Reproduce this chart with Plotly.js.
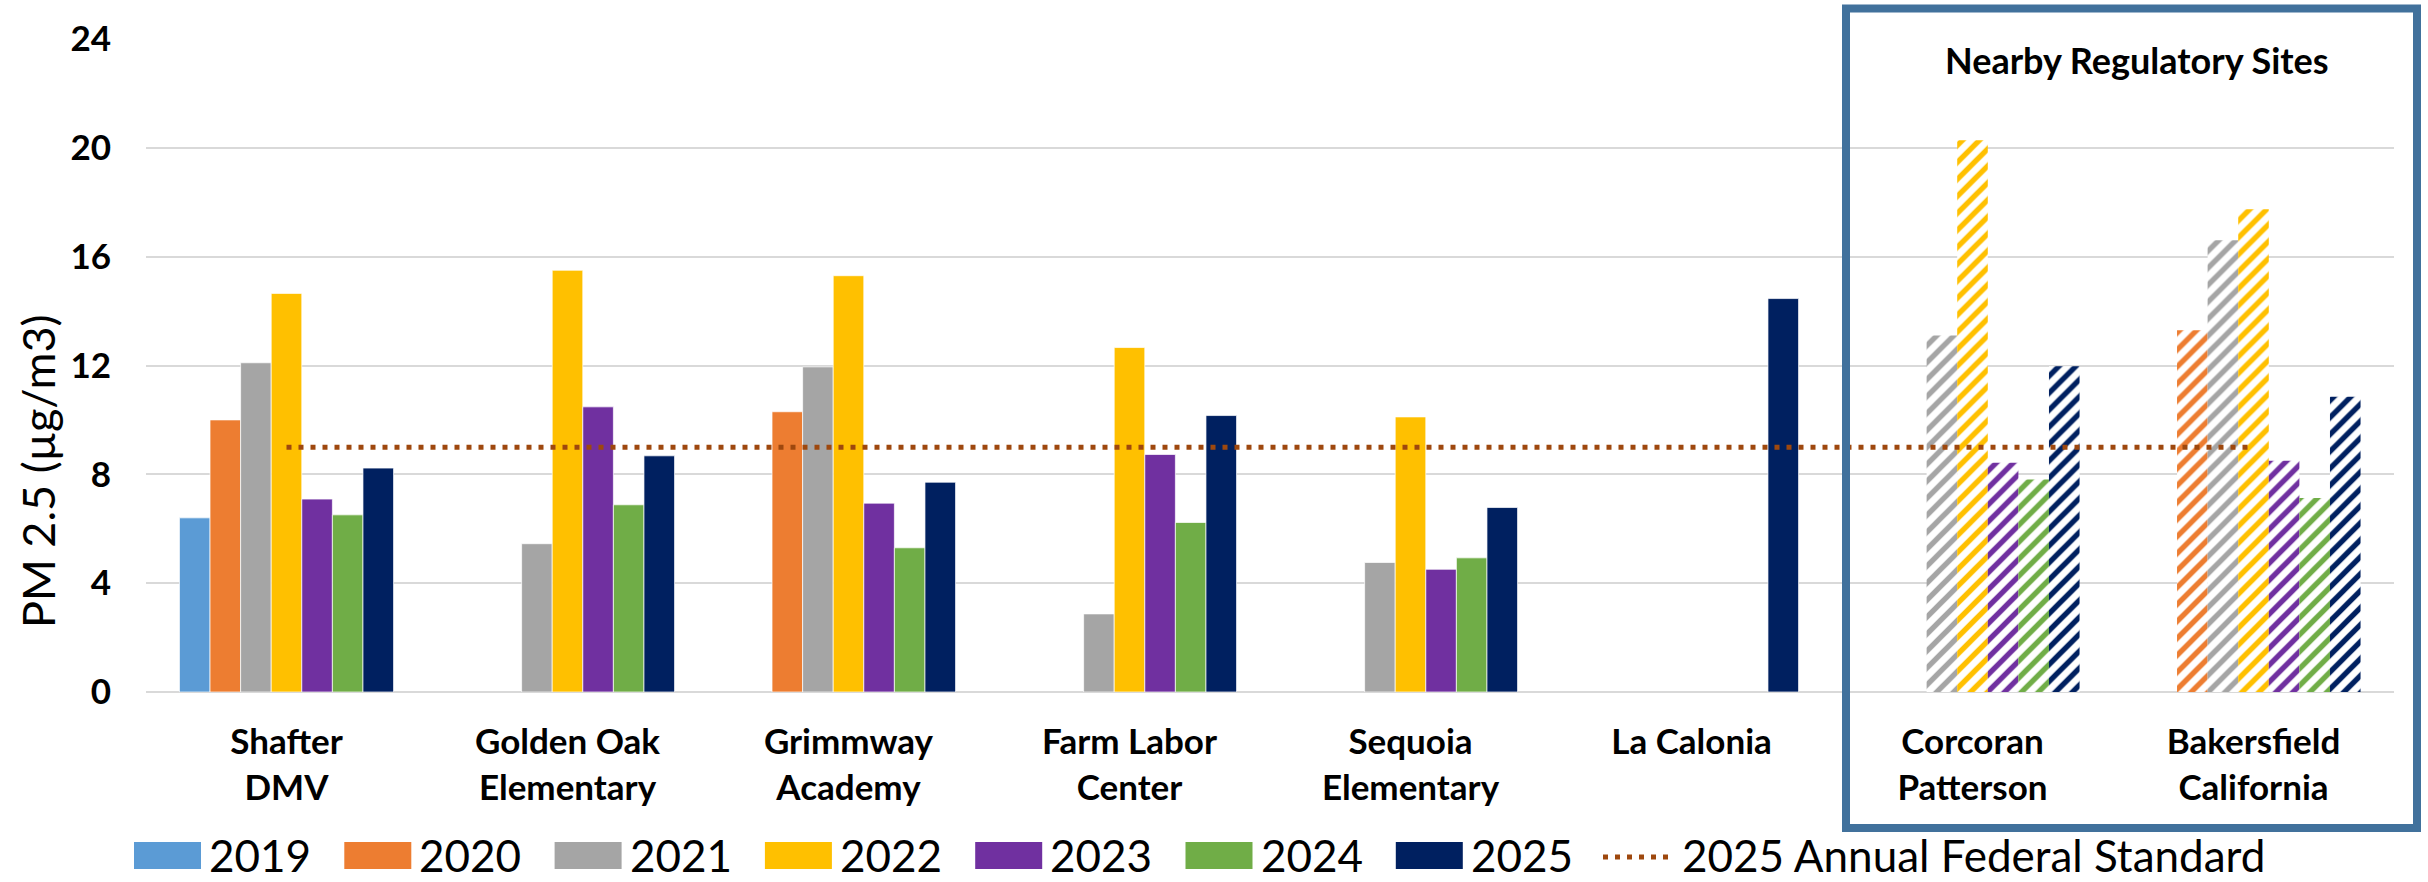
<!DOCTYPE html>
<html>
<head>
<meta charset="utf-8">
<script src="https://cdn.plot.ly/plotly-3.0.1.min.js"></script>
<style>
  html, body { margin: 0; padding: 0; background: #fff; }
  #plot { width: 2428px; height: 882px; }
</style>
</head>
<body>
<div id="plot"></div>
<script>
// sites, in chart order
const sites = ["Shafter DMV", "Golden Oak Elementary", "Grimmway Academy", "Farm Labor Center",
  "Sequoia Elementary", "La Calonia", "Corcoran Patterson", "Bakersfield California"];
const siteLabels = ["Shafter<br>DMV", "Golden Oak<br>Elementary", "Grimmway<br>Academy", "Farm Labor<br>Center",
  "Sequoia<br>Elementary", "La Calonia", "Corcoran<br>Patterson", "Bakersfield<br>California"];
// last two are regulatory sites (hatched)
const regulatory = [false, false, false, false, false, false, true, true];

const years = ["2019", "2020", "2021", "2022", "2023", "2024", "2025"];
const pm2019 = [6.4, null, null, null, null, null, null, null];
const pm2020 = [10.0, null, 10.3, null, null, null, null, 13.3];
const pm2021 = [12.1, 5.45, 11.95, 2.87, 4.76, null, 13.1, 16.6];
const pm2022 = [14.65, 15.5, 15.3, 12.66, 10.11, null, 20.28, 17.74];
const pm2023 = [7.09, 10.48, 6.94, 8.73, 4.51, null, 8.43, 8.5];
const pm2024 = [6.51, 6.88, 5.3, 6.23, 4.93, null, 7.81, 7.13];
const pm2025 = [8.23, 8.68, 7.71, 10.16, 6.78, 14.46, 11.97, 10.85];
const standard2025 = [9, 9, 9, 9, 9, 9, 9, 9];
const standardName = "2025 Annual Federal Standard";

const yearColors = ["#5B9BD5", "#ED7D31", "#A5A5A5", "#FFC000", "#7030A0", "#70AD47", "#002060"];
const standardColor = "#9E480E";
const boxColor = "#41719C";

// plot area in pixels, used to place the box and the legend
const W = 2428, H = 882;
const L = 146, R = 2394, T = 39, B = 692;
const px = (x) => (x - L) / (R - L);
const py = (y) => (B - y) / (B - T);

const series = [pm2019, pm2020, pm2021, pm2022, pm2023, pm2024, pm2025];
const traces = series.map((vals, i) => ({
  type: "bar",
  name: years[i],
  x: sites,
  y: vals,
  marker: {
    color: yearColors[i],
    line: { width: regulatory.map((r) => (r ? 0 : 1)), color: "rgba(255,255,255,0.7)" },
    pattern: {
      shape: regulatory.map((r) => (r ? "/" : "")),
      fgcolor: yearColors[i],
      bgcolor: "#ffffff",
      fillmode: "replace",
      size: 12,
      solidity: 0.45,
    },
  },
  hoverinfo: "x+y+name",
}));

traces.push({
  type: "scatter",
  mode: "lines",
  name: standardName,
  x: sites,
  y: standard2025,
  line: { color: standardColor, width: 5, dash: "5px,7px" },
});

const font = { family: "Lato, 'Open Sans', sans-serif", color: "#000" };

// custom legend (wide swatches like the original)
const shapes = [];
const annotations = [];
const legY = 855;
years.forEach((yr, i) => {
  const x0 = 134 + i * 210.3;
  shapes.push({
    type: "rect", xref: "paper", yref: "paper",
    x0: px(x0), x1: px(x0 + 67), y0: py(legY + 14), y1: py(legY - 13),
    fillcolor: yearColors[i], line: { width: 0 },
  });
  annotations.push({
    xref: "paper", yref: "paper", x: px(x0 + 73), y: py(legY),
    xanchor: "left", yanchor: "middle", showarrow: false,
    text: yr, font: { ...font, size: 44 },
  });
});
shapes.push({
  type: "line", xref: "paper", yref: "paper",
  x0: px(1603), x1: px(1672), y0: py(legY + 2), y1: py(legY + 2),
  line: { color: standardColor, width: 5, dash: "5px,7px" },
});
annotations.push({
  xref: "paper", yref: "paper", x: px(1680), y: py(legY),
  xanchor: "left", yanchor: "middle", showarrow: false,
  text: standardName, font: { ...font, size: 44 },
});

// box around the regulatory sites
shapes.push({
  type: "rect", xref: "paper", yref: "paper",
  x0: px(1846), x1: px(2417), y0: py(828), y1: py(8.5),
  line: { color: boxColor, width: 8 }, fillcolor: "rgba(0,0,0,0)",
});
annotations.push({
  xref: "paper", yref: "paper", x: px(2137), y: py(60),
  xanchor: "center", yanchor: "middle", showarrow: false,
  text: "Nearby Regulatory Sites", font: { ...font, size: 36, weight: "bold" },
});

// y axis title sits lower than the plot centre in the original
annotations.push({
  xref: "paper", yref: "paper", x: px(38), y: py(471),
  xanchor: "center", yanchor: "middle", showarrow: false, textangle: -90,
  text: "PM 2.5 (µg/m3)", font: { ...font, size: 45 },
});

const layout = {
  width: W,
  height: H,
  margin: { l: L, r: W - R, t: T, b: H - B },
  paper_bgcolor: "#fff",
  plot_bgcolor: "#fff",
  barmode: "group",
  bargap: 0.238,
  bargroupgap: 0,
  showlegend: false,
  font: font,
  xaxis: {
    type: "category",
    tickvals: sites,
    ticktext: siteLabels,
    tickfont: { ...font, size: 35, weight: "bold" },
    showgrid: false,
    showline: false,
    ticks: "",
    ticklabelstandoff: 26,
  },
  yaxis: {
    range: [0, 24],
    dtick: 4,
    tickfont: { ...font, size: 35, weight: "bold" },
    gridcolor: "#D9D9D9",
    gridwidth: 2,
    zeroline: true,
    zerolinecolor: "#D9D9D9",
    zerolinewidth: 2,
    showline: false,
    ticks: "",
    ticklabelstandoff: 34,
  },
  shapes: shapes,
  annotations: annotations,
};

Plotly.newPlot("plot", traces, layout, { displayModeBar: false, staticPlot: true });
</script>
</body>
</html>
